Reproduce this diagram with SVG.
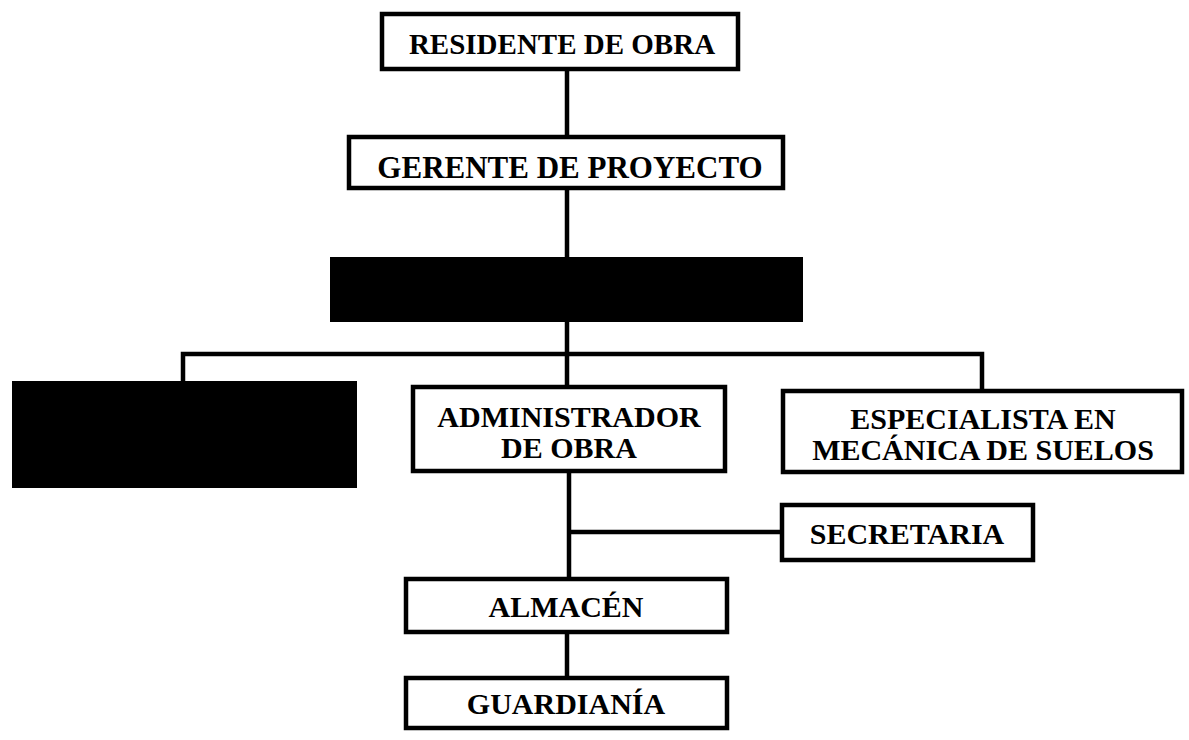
<svg xmlns="http://www.w3.org/2000/svg" width="1189" height="740" viewBox="0 0 1189 740">
<style>
.box{fill:#fff;stroke:#000;stroke-width:4.5}
.blk{fill:#000;stroke:#000;stroke-width:2}
.t{font-family:"Liberation Serif","Times New Roman",serif;font-weight:bold;font-size:30px;fill:#000;text-anchor:middle}
.c{stroke:#000;stroke-width:4.5;fill:none}
</style>
<rect width="1189" height="740" fill="#fff"/>
<g id="connectors">
<path class="c" d="M567 71V135M567 190V257M567 322V385"/>
<path class="c" d="M183 381V354H982V389"/>
<path class="c" d="M569 473V577M569 532H780"/>
<path class="c" d="M567 634V676"/>
</g>
<g id="residente"><rect class="box" x="382" y="14" width="356" height="55"/><text class="t" x="562" y="54" style="font-size:29px">RESIDENTE DE OBRA</text></g>
<g id="gerente"><rect class="box" x="349" y="137" width="434" height="51"/><text class="t" x="570" y="178" style="font-size:31px">GERENTE DE PROYECTO</text></g>
<g id="oculto1"><rect class="blk" x="331" y="258" width="471" height="63"/></g>
<g id="oculto2"><rect class="blk" x="13" y="382" width="343" height="105"/></g>
<g id="administrador"><rect class="box" x="413" y="387" width="312" height="84"/><text class="t" x="569" y="427">ADMINISTRADOR</text><text class="t" x="569" y="458">DE OBRA</text></g>
<g id="especialista"><rect class="box" x="783" y="391" width="399" height="81"/><text class="t" x="983" y="429">ESPECIALISTA EN</text><text class="t" x="983" y="460">MECÁNICA DE SUELOS</text></g>
<g id="secretaria"><rect class="box" x="782" y="505" width="251" height="55"/><text class="t" x="907" y="544">SECRETARIA</text></g>
<g id="almacen"><rect class="box" x="406" y="579" width="321" height="53"/><text class="t" x="566" y="617">ALMACÉN</text></g>
<g id="guardiania"><rect class="box" x="406" y="678" width="321" height="50"/><text class="t" x="566" y="714">GUARDIANÍA</text></g>
</svg>
